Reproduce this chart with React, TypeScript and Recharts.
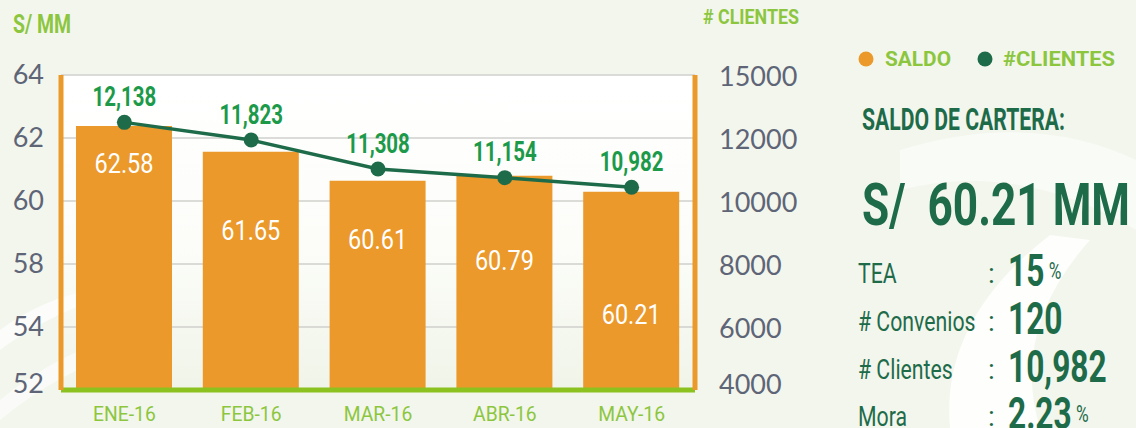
import React from 'react';
import { ComposedChart, Bar, Line, XAxis, YAxis, CartesianGrid, LabelList } from 'recharts';

// ---------- data ----------
const categories = ['ENE-16', 'FEB-16', 'MAR-16', 'ABR-16', 'MAY-16'];
const saldo = [62.58, 61.65, 60.61, 60.79, 60.21];
const clientes = [12138, 11823, 11308, 11154, 10982];
const leftTickLabels = ['52', '54', '58', '60', '62', '64'];
const rightTickLabels = ['4000', '6000', '8000', '10000', '12000', '15000'];
const summaryLabels = ['TEA', '# Convenios', '# Clientes', 'Mora'];
const summaryValues = ['15', '120', '10,982', '2.23'];
const summaryUnits = ['%', '', '', '%'];
const saldoTotal = 'S/  60.21 MM';

const data = categories.map((c, i) => ({ cat: c, saldo: saldo[i], clientes: clientes[i] }));

// ---------- style / layout ----------
const ORANGE = '#eb992b';
const DARK = '#1e6b4a';
const LIGHT_GREEN = '#8cc63f';
const LABEL_GREEN = '#1c9a4a';
const TICK_GREY = '#5e6577';
const BAR_LABEL_DROP = [37, 78, 59, 85, 122];

// axis domains as drawn in the original (the printed tick labels are evenly spaced)
const SALDO_DOMAIN: [number, number] = [53.09, 64.41];
const CLI_DOMAIN: [number, number] = [7374, 12981];
const evenTicks = (d: [number, number], n: number) =>
  Array.from({ length: n }, (_, i) => d[0] + ((d[1] - d[0]) * i) / (n - 1));
const saldoTicks = evenTicks(SALDO_DOMAIN, leftTickLabels.length);
const cliTicks = evenTicks(CLI_DOMAIN, rightTickLabels.length);

const LeftTick = (p: any) => (
  <text x={p.x} y={p.y - 2 - (p.index === 0 ? 6 : 0)} textAnchor="end" dominantBaseline="central" fontFamily="Lato"
    fontSize={27} fill={TICK_GREY}>
    {leftTickLabels[p.index]}
  </text>
);
const RightTick = (p: any) => (
  <text x={p.x} y={p.y - (p.index === 0 ? 7 : 0)} textAnchor="start" dominantBaseline="central" fontFamily="Lato"
    fontSize={27} fill={TICK_GREY}>
    {rightTickLabels[p.index]}
  </text>
);
const XTick = (p: any) => (
  <text transform={`translate(${p.x},${p.y + 24}) scale(0.92,1)`} textAnchor="middle" dominantBaseline="central"
    fontFamily="Roboto" fontSize={21} fill={LIGHT_GREEN}>
    {p.payload.value}
  </text>
);

const BarLabel = (p: any) => {
  const { x, y, width, index, value } = p;
  return (
    <text transform={`translate(${x + width / 2},${y + BAR_LABEL_DROP[index]}) scale(0.84,1)`} textAnchor="middle"
      dominantBaseline="central" fontFamily="Roboto" fontSize={28} fill="#ffffff">
      {Number(value).toFixed(2)}
    </text>
  );
};
const LineLabel = (p: any) => {
  const { x, y, value } = p;
  return (
    <text transform={`translate(${x},${y - 26}) scale(0.73,1)`} textAnchor="middle" dominantBaseline="central"
      fontFamily="Roboto" fontWeight={700} fontSize={28} fill={LABEL_GREEN}>
      {Number(value).toLocaleString('en-US')}
    </text>
  );
};

const T = ({ x, y, size, weight = 400, fill, len, anchor = 'start', children }: any) => (
  <text x={x} y={y} fontFamily="Roboto" fontSize={size} fontWeight={weight} fill={fill} textAnchor={anchor}
    dominantBaseline="central" textLength={len} lengthAdjust={len ? 'spacingAndGlyphs' : undefined}
    style={{ whiteSpace: 'pre' }}>
    {children}
  </text>
);

const rowY = [273, 321, 369, 416];

export default function App() {
  return (
    <div style={{ position: 'absolute', left: 0, top: 0, width: 1136, height: 428, overflow: 'hidden', background: '#f3f6ed' }}>
      <svg width={1136} height={428} style={{ position: 'absolute', left: 0, top: 0 }}>
        <defs>
          <linearGradient id="plotbg" x1="0" y1="0" x2="0" y2="1">
            <stop offset="0" stopColor="#ffffff" />
            <stop offset="0.55" stopColor="#fcfdf9" />
            <stop offset="1" stopColor="#f0f4e8" />
          </linearGradient>
        </defs>
        <rect x={0} y={0} width={1136} height={428} fill="#f3f6ed" />
        <rect x={61} y={75} width={634} height={315} fill="url(#plotbg)" />
        <path d="M0 330 Q 40 300 90 290 L 95 300 Q 40 320 0 350 Z" fill="#ffffff" opacity={0.7} />
        <path d="M0 400 Q 60 350 140 330 L 140 345 Q 60 370 0 420 Z" fill="#ffffff" opacity={0.6} />
        <path d="M1050 235 Q 940 320 950 428 L 1040 428 Q 1010 330 1090 240 Z" fill="#ffffff" opacity={0.85} />
        <path d="M900 150 Q 1030 110 1136 160 L 1136 230 Q 1020 160 900 190 Z" fill="#ffffff" opacity={0.5} />
      </svg>

      <div style={{ position: 'absolute', left: 0, top: 0 }}>
        <ComposedChart width={800} height={428} data={data} margin={{ top: 75, right: 0, bottom: 0, left: 0 }}>
          <CartesianGrid yAxisId="saldo" vertical={false} stroke="#cfd0cc" strokeWidth={1.5} />
          <XAxis dataKey="cat" height={38} interval={0} tickLine={false} tickSize={0} tickMargin={0}
            axisLine={{ stroke: '#8cc21f', strokeWidth: 5 }} tick={<XTick />} />
          <YAxis yAxisId="saldo" type="number" domain={SALDO_DOMAIN} ticks={saldoTicks} allowDataOverflow
            width={61} tickLine={false} tickSize={0} tickMargin={17} interval={0}
            axisLine={{ stroke: ORANGE, strokeWidth: 5 }} tick={<LeftTick />} />
          <YAxis yAxisId="cli" orientation="right" type="number" domain={CLI_DOMAIN} ticks={cliTicks} allowDataOverflow
            width={105} tickLine={false} tickSize={0} tickMargin={24} interval={0}
            axisLine={{ stroke: ORANGE, strokeWidth: 5 }} tick={<RightTick />} />
          <Bar yAxisId="saldo" dataKey="saldo" fill={ORANGE} barSize={96} isAnimationActive={false}>
            <LabelList dataKey="saldo" content={<BarLabel />} />
          </Bar>
          <Line yAxisId="cli" dataKey="clientes" stroke={DARK} strokeWidth={3.5} isAnimationActive={false}
            dot={{ r: 7.5, fill: DARK, stroke: DARK, strokeWidth: 0 }} activeDot={false}>
            <LabelList dataKey="clientes" content={<LineLabel />} />
          </Line>
        </ComposedChart>
      </div>

      <svg width={1136} height={428} style={{ position: 'absolute', left: 0, top: 0, pointerEvents: 'none' }}>
        <T x={13} y={24} size={25} weight={700} fill={LIGHT_GREEN} len={58}>S/ MM</T>
        <T x={703} y={17} size={21} weight={700} fill={LIGHT_GREEN} len={96}># CLIENTES</T>

        <circle cx={866} cy={59} r={7.5} fill={ORANGE} />
        <T x={885} y={59} size={20} weight={700} fill={LIGHT_GREEN} len={66}>SALDO</T>
        <circle cx={985} cy={59} r={7.5} fill={DARK} />
        <T x={1003} y={59} size={20} weight={700} fill={LIGHT_GREEN} len={112}>#CLIENTES</T>

        <T x={862} y={119} size={32} weight={700} fill={DARK} len={203}>SALDO DE CARTERA:</T>
        <T x={862} y={204} size={60} weight={700} fill={DARK} len={268}>{saldoTotal}</T>

        {summaryLabels.map((lab, i) => (
          <g key={lab}>
            <text transform={`translate(858,${rowY[i]}) scale(0.76,1)`} fontFamily="Roboto" fontSize={28} fill={DARK}
              dominantBaseline="central">{lab}</text>
            <text x={988} y={rowY[i]} fontFamily="Roboto" fontSize={28} fill={DARK} dominantBaseline="central">:</text>
            <text transform={`translate(1008,${rowY[i] - 2}) scale(0.72,1)`} fontFamily="Roboto" fontWeight={700}
              fontSize={44} fill={DARK} dominantBaseline="central">
              {summaryValues[i]}
              {summaryUnits[i] ? <tspan fontSize={24} fontWeight={400} dx={6}>{summaryUnits[i]}</tspan> : null}
            </text>
          </g>
        ))}
      </svg>
    </div>
  );
}
